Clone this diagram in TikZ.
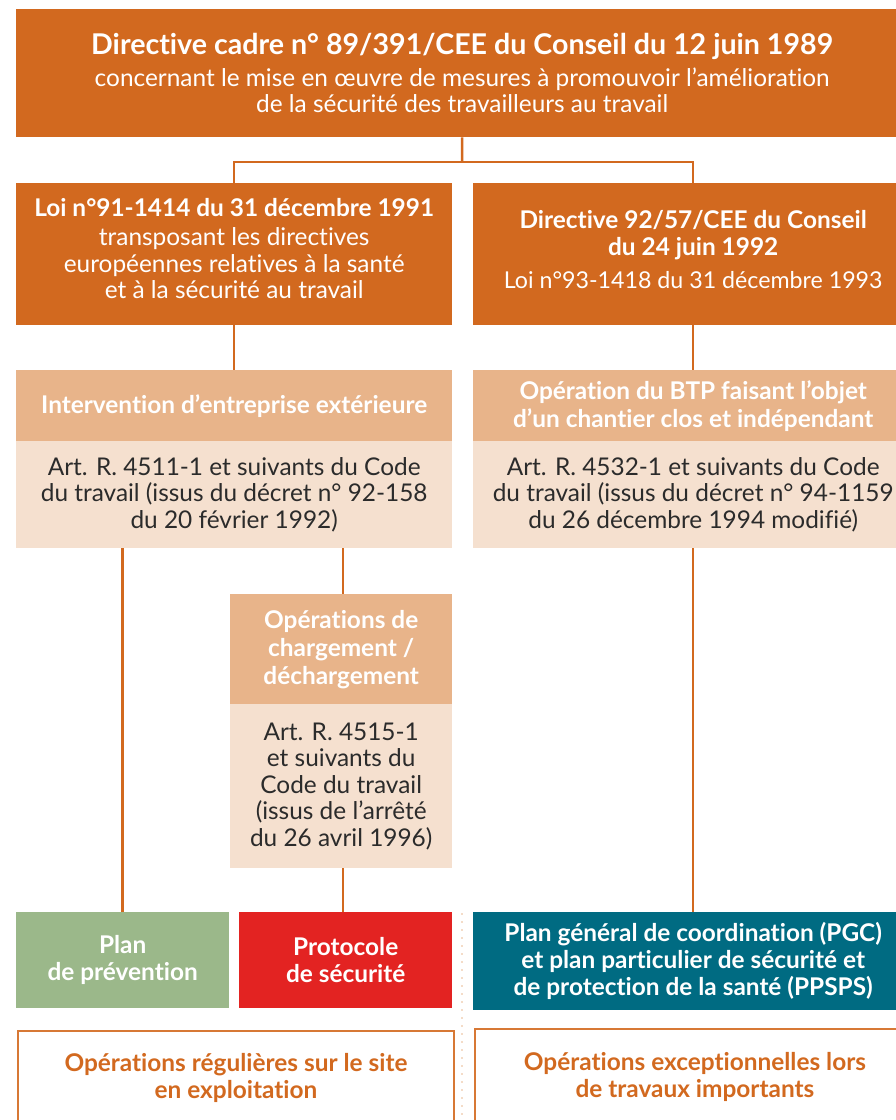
\documentclass[tikz,border=0pt]{standalone}
\usepackage{fontspec}
\setmainfont{Lato}[Ligatures=NoCommon]
\usetikzlibrary{positioning}
\definecolor{orangefonce}{HTML}{D2691F}
\definecolor{orangeclair}{HTML}{E8B48A}
\definecolor{beige}{HTML}{F5E0CF}
\definecolor{vert}{HTML}{9BB88A}
\definecolor{rouge}{HTML}{E32322}
\definecolor{bleu}{HTML}{006B82}
\definecolor{texte}{HTML}{2B2B2B}
\tikzset{
  boite/.style={anchor=north west,inner sep=0pt,align=center,
    font=\fontsize{24.4}{26.5}\selectfont},
  titre/.style={boite,fill=orangefonce,text=white},
  entete/.style={boite,fill=orangeclair,text=white,font=\bfseries\fontsize{24.4}{28}\selectfont},
  corps/.style={boite,fill=beige,text=texte},
  plan/.style={boite,text=white,font=\bfseries\fontsize{24.4}{27}\selectfont},
  cadre/.style={boite,draw=orangefonce!90,line width=2pt,text=orangefonce,
    font=\bfseries\fontsize{24.4}{27.5}\selectfont},
  lien/.style={draw=orangefonce,line width=2.5pt}
}
\begin{document}
\begin{tikzpicture}[x=1pt,y=-1pt]
  \useasboundingbox (0,0) rectangle (895,1120);
  % directive cadre
  \node[titre,minimum width=892pt,minimum height=128pt] (cadre89) at (16,9)
    {{\bfseries\fontsize{28.6}{30}\selectfont Directive cadre n° 89/391/CEE du Conseil du 12 juin 1989}\\[5pt]
     concernant le mise en œuvre de mesures à promouvoir l’amélioration\\
     de la sécurité des travailleurs au travail};
  % textes de transposition
  \node[titre,minimum width=436pt,minimum height=142pt,text depth=12pt] (loi91) at (16,183)
    {\textbf{Loi n°91-1414 du 31 décembre 1991}\\[3pt]
     transposant les directives\\
     européennes relatives à la santé\\
     et à la sécurité au travail};
  \node[titre,minimum width=440pt,minimum height=142pt,text depth=9pt] (dir92) at (473,183)
    {\textbf{Directive 92/57/CEE du Conseil}\\ \textbf{du 24 juin 1992}\\[7pt]
     {\fontsize{23.2}{26}\selectfont Loi n°93-1418 du 31 décembre 1993}};
  % embranchement
  \coordinate (noeud) at (462,162);
  \draw[lien] (cadre89.south) -- (noeud);
  \draw[lien] (loi91.north) |- (noeud) -| (dir92.north);
  % champs d'application
  \node[entete,minimum width=436pt,minimum height=71pt] (interv) at (16,370)
    {Intervention d’entreprise extérieure};
  \node[corps,minimum width=436pt,minimum height=107pt] (intervart) at (16,441)
    {Art. R. 4511-1 et suivants du Code\\
     du travail (issus du décret n° 92-158\\
     du 20 février 1992)};
  \node[entete,minimum width=440pt,minimum height=71pt] (btp) at (473,370)
    {Opération du BTP faisant l’objet\\ d’un chantier clos et indépendant};
  \node[corps,minimum width=440pt,minimum height=107pt] (btpart) at (473,441)
    {Art. R. 4532-1 et suivants du Code\\
     du travail (issus du décret n° 94-1159\\
     du 26 décembre 1994 modifié)};
  \draw[lien] (loi91.south) -- (interv.north);
  \draw[lien] (dir92.south) -- (btp.north);
  % chargement / dechargement
  \node[entete,minimum width=222pt,minimum height=110pt] (charg) at (230,594)
    {Opérations de\\ chargement /\\ déchargement};
  \node[corps,minimum width=222pt,minimum height=164pt] (chargart) at (230,704)
    {Art. R. 4515-1\\ et suivants du\\ Code du travail\\ (issus de l’arrêté\\ du 26 avril 1996)};
  \coordinate (departcharg) at (343,548);
  \draw[lien] (departcharg) -- (departcharg |- charg.north);
  % plans
  \node[plan,fill=vert,minimum width=213pt,minimum height=96pt] (prevention) at (16,912)
    {Plan\\ de prévention};
  \node[plan,fill=rouge,minimum width=213pt,minimum height=96pt] (protocole) at (239,912)
    {Protocole\\ de sécurité};
  \node[plan,fill=bleu,minimum width=440pt,minimum height=98pt] (pgc) at (473,912)
    {Plan général de coordination (PGC)\\
     et plan particulier de sécurité et\\
     de protection de la santé (PPSPS)};
  \draw[lien] (prevention.north) -- (prevention.north |- intervart.south);
  \draw[lien] (departcharg |- chargart.south) -- (departcharg |- protocole.north);
  \draw[lien] (btpart.south) -- (pgc.north);
  % separation
  \coordinate (sep) at (462,913);
  \draw[beige!90!orangeclair,line width=2pt,dash pattern=on 2pt off 6pt] (sep) -- (462,1120);
  % types d'operations
  \node[cadre,minimum width=436pt,minimum height=94pt] (regulieres) at (17,1030)
    {Opérations régulières sur le site\\ en exploitation};
  \node[cadre,minimum width=440pt,minimum height=96pt] (exception) at (474,1028)
    {Opérations exceptionnelles lors\\ de travaux importants};
\end{tikzpicture}
\end{document}
